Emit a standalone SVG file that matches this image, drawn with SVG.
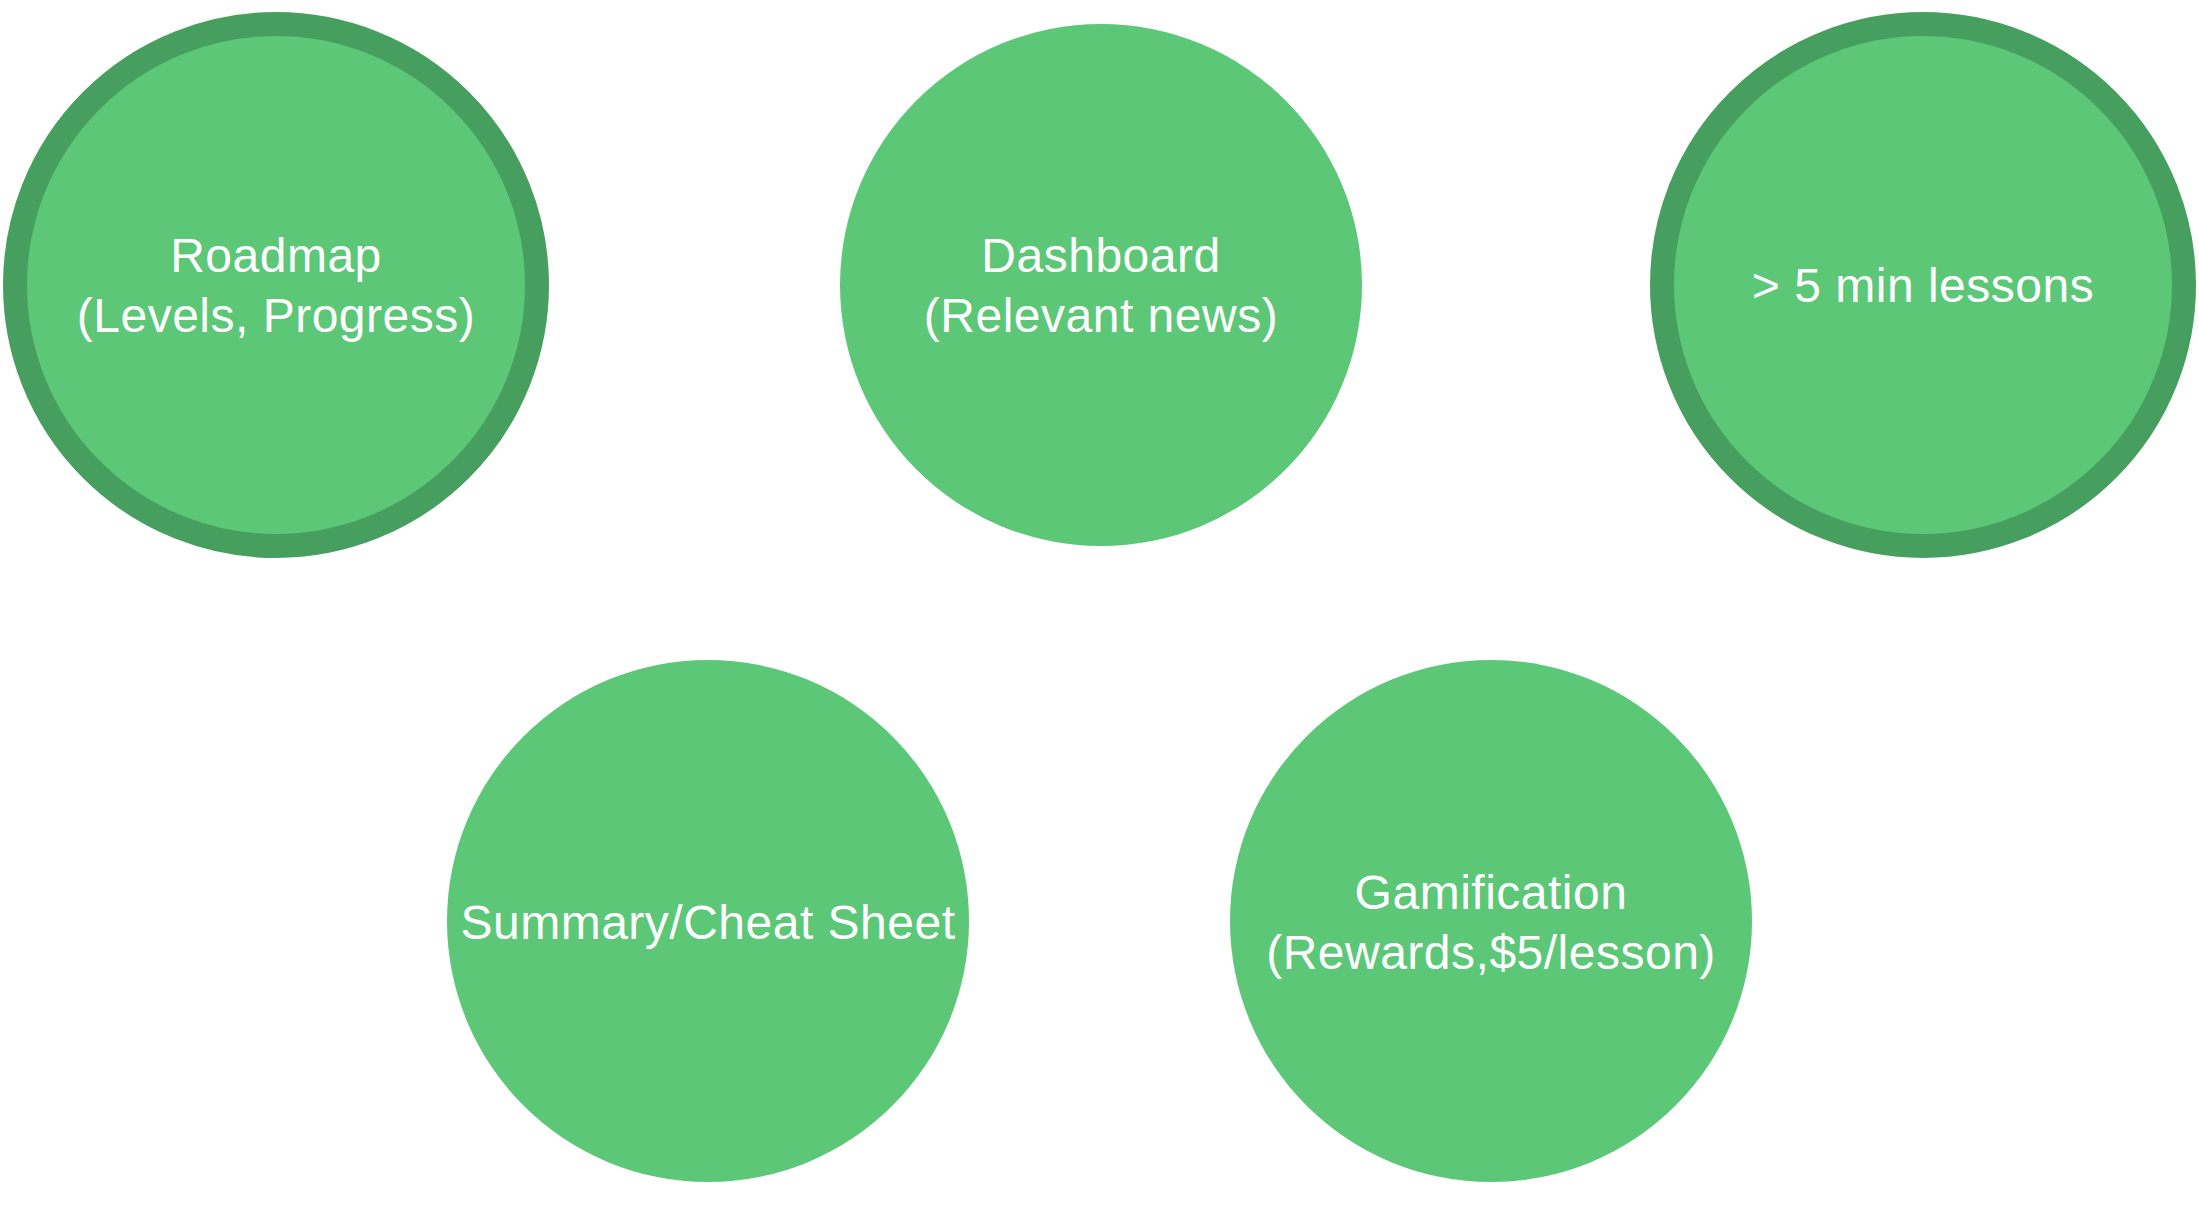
<svg xmlns="http://www.w3.org/2000/svg" width="2199" height="1206" viewBox="0 0 2199 1206">
<style>
.node{fill:#5BC777;}
.ring{stroke:#479F5F;stroke-width:24;}
.lbl{fill:#FFFFFF;font-family:"Liberation Sans",Arial,sans-serif;font-size:48px;text-anchor:middle;letter-spacing:0.5px;}
</style>
<rect width="2199" height="1206" fill="#FFFFFF"/>
<g id="connectors"></g>
<g id="roadmap">
<circle class="node ring" cx="276" cy="285" r="261"/>
<text class="lbl" x="276" y="272">Roadmap</text>
<text class="lbl" x="276" y="332">(Levels, Progress)</text>
</g>
<g id="dashboard">
<circle class="node" cx="1101" cy="285" r="261"/>
<text class="lbl" x="1101" y="272">Dashboard</text>
<text class="lbl" x="1101" y="332">(Relevant news)</text>
</g>
<g id="lessons">
<circle class="node ring" cx="1923" cy="285" r="261"/>
<text class="lbl" x="1923" y="302">&gt; 5 min lessons</text>
</g>
<g id="summary">
<circle class="node" cx="708" cy="921" r="261"/>
<text class="lbl" x="708" y="939">Summary/Cheat Sheet</text>
</g>
<g id="gamification">
<circle class="node" cx="1491" cy="921" r="261"/>
<text class="lbl" x="1491" y="909">Gamification</text>
<text class="lbl" x="1491" y="969">(Rewards,$5/lesson)</text>
</g>
</svg>
